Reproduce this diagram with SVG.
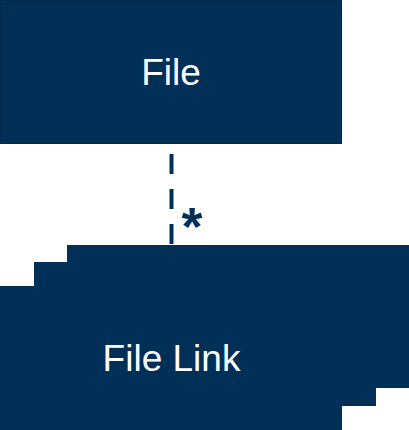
<svg xmlns="http://www.w3.org/2000/svg" width="409" height="430" viewBox="0 0 409 430">
<style>
.box{fill:#003057}
.lbl{font-family:"Liberation Sans",Arial,sans-serif;font-size:37px;fill:#ffffff;text-anchor:middle}
.conn{stroke:#003057;stroke-width:4;stroke-dasharray:20 15;fill:none}
.mult{font-family:"Liberation Sans",Arial,sans-serif;font-size:54px;font-weight:bold;fill:#003057}
</style>
<rect width="409" height="430" fill="#ffffff"/>
<g id="connectors">
<line class="conn" x1="171.5" y1="154" x2="171.5" y2="245"/>
<text class="mult" x="181.5" y="245">*</text>
</g>
<g id="file">
<rect class="box" x="0.5" y="0.5" width="341" height="143" stroke="#00284b" stroke-width="1"/>
<text class="lbl" x="171" y="85">File</text>
</g>
<g id="file-link">
<rect class="box" x="67" y="245" width="342" height="143"/>
<rect class="box" x="34" y="262" width="342" height="144"/>
<rect class="box" x="0" y="286" width="342" height="144"/>
<text class="lbl" x="171.5" y="371">File Link</text>
</g>
</svg>
